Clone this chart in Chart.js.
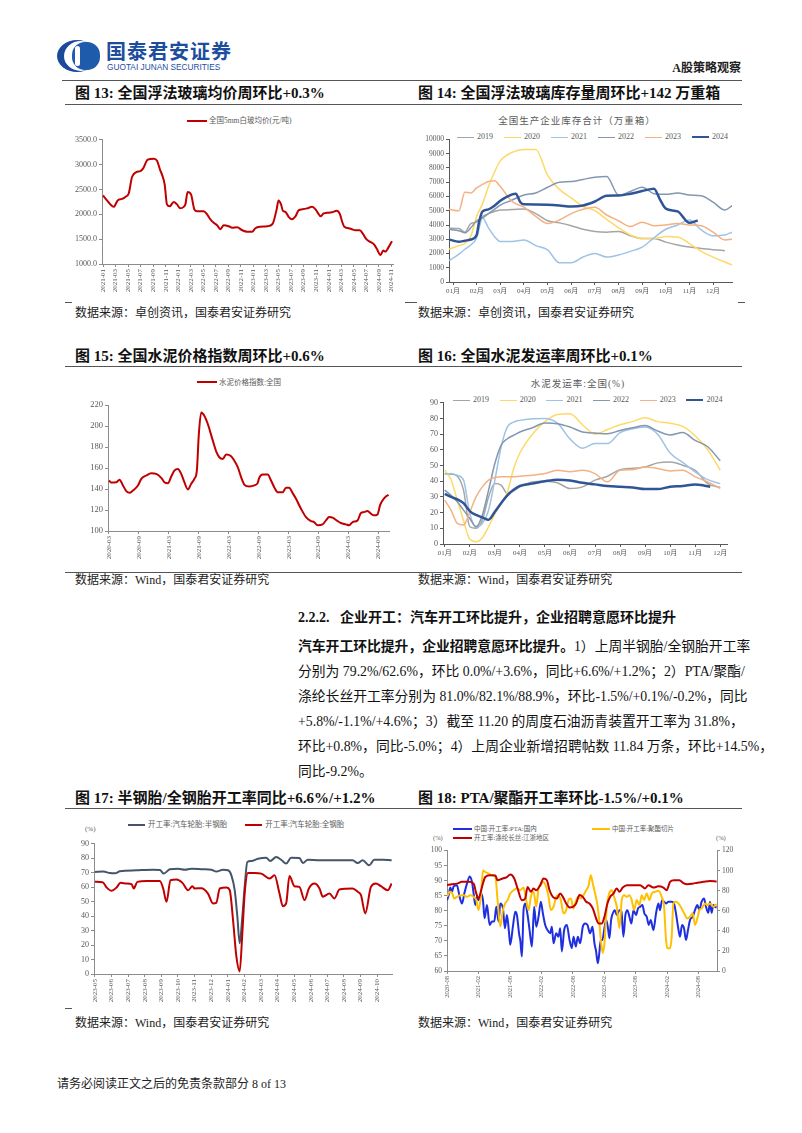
<!DOCTYPE html>
<html lang="zh-CN">
<head>
<meta charset="utf-8">
<title>A股策略观察</title>
<script src="https://cdn.jsdelivr.net/npm/chart.js@4.4.1/dist/chart.umd.min.js"></script>
<style>
html, body { margin: 0; padding: 0; background: #fff; }
body { width: 802px; height: 1133px; position: relative; overflow: hidden;
       font-family: 'Liberation Serif', 'Noto Sans CJK SC', serif; color: #111; }
.t { position: absolute; white-space: nowrap; line-height: 1; }
.rule { position: absolute; height: 0; border-top: 1px solid #555; }
canvas { position: absolute; }
.figt { font-size: 15px; font-weight: bold; }
.src { font-size: 12px; color: #222; }
.para { position: absolute; left: 298px; width: 444px; font-size: 13.8px; line-height: 1;
        white-space: nowrap; text-align: justify; text-align-last: justify; }
.lg { position: absolute; display: flex; align-items: center; white-space: nowrap; line-height: 1; color: #595959; }
.lg .sw { display: inline-block; height: 0; border-top-style: solid; margin-right: 3px; }
.lg .it { display: flex; align-items: center; }
.ctitle { position: absolute; transform: translateX(-50%); white-space: nowrap; line-height: 1;
          font-size: 9.5px; color: #595959; letter-spacing: 1px; }
</style>
</head>
<body>

<!-- 页眉 -->
<svg width="46" height="34" viewBox="0 0 46 34" style="position:absolute;left:56px;top:39px">
  <ellipse cx="21" cy="17" rx="20" ry="16" fill="#1B4B98"/>
  <ellipse cx="25" cy="17" rx="17" ry="15" fill="#fff"/>
  <rect x="16" y="3" width="28" height="28" rx="13" fill="#1E5BAA"/>
  <rect x="19" y="7" width="5" height="20" rx="2.5" fill="#fff"/>
</svg>
<div class="t" style="left:106px;top:41px;font-size:20px;font-weight:bold;color:#1D4E9E;font-family:'Noto Sans CJK SC',sans-serif;letter-spacing:1px">国泰君安证券</div>
<div class="t" style="left:107px;top:63px;font-size:8.3px;color:#1D4E9E;font-family:'Liberation Sans','DejaVu Sans',sans-serif">GUOTAI JUNAN SECURITIES</div>
<div class="t" style="right:61px;top:62px;font-size:12px;font-weight:bold;color:#222">A股策略观察</div>
<div class="rule" style="left:62px;width:680px;top:80px"></div>

<!-- 图13 / 图14 -->
<div class="t figt" style="left:75px;top:85.5px">图 13:&nbsp;全国浮法玻璃均价周环比+0.3%</div>
<div class="t figt" style="left:418px;top:85.5px">图 14:&nbsp;全国浮法玻璃库存量周环比+142 万重箱</div>
<div class="rule" style="left:65px;width:677px;top:104px"></div>

<div class="lg" style="left:187px;top:117px;font-size:7.5px">
  <span class="sw" style="width:20px;border-top-width:2px;border-top-color:#C00000;margin-right:2px"></span>全国5mm白玻均价(元/吨)
</div>
<canvas id="c13"></canvas>

<div class="ctitle" style="left:577px;top:117px">全国生产企业库存合计（万重箱）</div>
<div class="lg" style="left:457px;top:133px;font-size:8px">
  <span class="it" style="margin-right:11px"><span class="sw" style="width:17px;border-top-width:1.5px;border-top-color:#A5A5A5"></span>2019</span>
  <span class="it" style="margin-right:11px"><span class="sw" style="width:17px;border-top-width:1.5px;border-top-color:#FFD966"></span>2020</span>
  <span class="it" style="margin-right:11px"><span class="sw" style="width:17px;border-top-width:1.5px;border-top-color:#9DC3E6"></span>2021</span>
  <span class="it" style="margin-right:11px"><span class="sw" style="width:17px;border-top-width:1.5px;border-top-color:#8497B0"></span>2022</span>
  <span class="it" style="margin-right:11px"><span class="sw" style="width:17px;border-top-width:1.5px;border-top-color:#F4B183"></span>2023</span>
  <span class="it"><span class="sw" style="width:17px;border-top-width:2.5px;border-top-color:#2F5597"></span>2024</span>
</div>
<canvas id="c14"></canvas>

<div class="rule" style="left:65px;width:7px;top:302px"></div>
<div class="rule" style="left:405px;width:12px;top:302px"></div>
<div class="rule" style="left:738px;width:7px;top:302px"></div>
<div class="t src" style="left:75px;top:307px">数据来源：卓创资讯，国泰君安证券研究</div>
<div class="t src" style="left:418px;top:307px">数据来源：卓创资讯，国泰君安证券研究</div>

<!-- 图15 / 图16 -->
<div class="t figt" style="left:75px;top:348.5px">图 15:&nbsp;全国水泥价格指数周环比+0.6%</div>
<div class="t figt" style="left:418px;top:348.5px">图 16:&nbsp;全国水泥发运率周环比+0.1%</div>
<div class="rule" style="left:65px;width:677px;top:366px"></div>

<div class="lg" style="left:197px;top:378.5px;font-size:7.5px">
  <span class="sw" style="width:20px;border-top-width:2px;border-top-color:#C00000;margin-right:2px"></span>水泥价格指数:全国
</div>
<canvas id="c15"></canvas>

<div class="ctitle" style="left:578px;top:380px">水泥发运率:全国(%)</div>
<div class="lg" style="left:453px;top:396px;font-size:8px">
  <span class="it" style="margin-right:10.7px"><span class="sw" style="width:17px;border-top-width:1.5px;border-top-color:#A5A5A5"></span>2019</span>
  <span class="it" style="margin-right:10.7px"><span class="sw" style="width:17px;border-top-width:1.5px;border-top-color:#FFD966"></span>2020</span>
  <span class="it" style="margin-right:10.7px"><span class="sw" style="width:17px;border-top-width:1.5px;border-top-color:#9DC3E6"></span>2021</span>
  <span class="it" style="margin-right:10.7px"><span class="sw" style="width:17px;border-top-width:1.5px;border-top-color:#8497B0"></span>2022</span>
  <span class="it" style="margin-right:10.7px"><span class="sw" style="width:17px;border-top-width:1.5px;border-top-color:#F4B183"></span>2023</span>
  <span class="it"><span class="sw" style="width:17px;border-top-width:2.5px;border-top-color:#2F5597"></span>2024</span>
</div>
<canvas id="c16"></canvas>

<div class="rule" style="left:65px;width:677px;top:572px"></div>
<div class="t src" style="left:75px;top:574px">数据来源：Wind，国泰君安证券研究</div>
<div class="t src" style="left:418px;top:574px">数据来源：Wind，国泰君安证券研究</div>

<!-- 正文 -->
<div class="t" style="left:298px;top:611px;font-size:14px;font-weight:bold">2.2.2.&nbsp;&nbsp;&nbsp;企业开工：汽车开工环比提升，企业招聘意愿环比提升</div>
<div class="para" style="top:640px"><b>汽车开工环比提升，企业招聘意愿环比提升。</b>1）上周半钢胎/全钢胎开工率</div>
<div class="para" style="top:665px">分别为 79.2%/62.6%，环比 0.0%/+3.6%，同比+6.6%/+1.2%；2）PTA/聚酯/</div>
<div class="para" style="top:690px">涤纶长丝开工率分别为 81.0%/82.1%/88.9%，环比-1.5%/+0.1%/-0.2%，同比</div>
<div class="para" style="top:715px">+5.8%/-1.1%/+4.6%；3）截至 11.20 的周度石油沥青装置开工率为 31.8%，</div>
<div class="para" style="top:740px">环比+0.8%，同比-5.0%；4）上周企业新增招聘帖数 11.84 万条，环比+14.5%，</div>
<div class="t" style="left:298px;top:765px;font-size:13.8px">同比-9.2%。</div>

<!-- 图17 / 图18 -->
<div class="t figt" style="left:75px;top:790.5px">图 17:&nbsp;半钢胎/全钢胎开工率同比+6.6%/+1.2%</div>
<div class="t figt" style="left:418px;top:790.5px">图 18:&nbsp;PTA/聚酯开工率环比-1.5%/+0.1%</div>
<div class="rule" style="left:65px;width:677px;top:808px"></div>

<div class="lg" style="left:128px;top:821px;font-size:7.5px">
  <span class="it" style="margin-right:18px"><span class="sw" style="width:17px;border-top-width:2px;border-top-color:#44546A"></span>开工率:汽车轮胎:半钢胎</span>
  <span class="it"><span class="sw" style="width:17px;border-top-width:2px;border-top-color:#C00000"></span>开工率:汽车轮胎:全钢胎</span>
</div>
<div class="t" style="left:85px;top:825.5px;font-size:7px;color:#595959">(%)</div>
<canvas id="c17"></canvas>

<div class="lg" style="left:453px;top:826px;font-size:6.5px">
  <span class="sw" style="width:19px;border-top-width:2px;border-top-color:#1F2FE0;margin-right:2px"></span>中国:开工率:PTA:国内
</div>
<div class="lg" style="left:592px;top:826px;font-size:6.5px">
  <span class="sw" style="width:18px;border-top-width:2px;border-top-color:#FFC000;margin-right:2px"></span>中国:开工率:聚酯切片
</div>
<div class="lg" style="left:453px;top:834.5px;font-size:6.5px">
  <span class="sw" style="width:19px;border-top-width:2px;border-top-color:#C00000;margin-right:2px"></span>开工率:涤纶长丝:江浙地区
</div>
<div class="t" style="left:433px;top:835px;font-size:6.5px;color:#595959">(%)</div>
<div class="t" style="left:716px;top:835px;font-size:6.5px;color:#595959">(%)</div>
<canvas id="c18"></canvas>

<div class="rule" style="left:65px;width:7px;top:1008px"></div>
<div class="t src" style="left:75px;top:1017px">数据来源：Wind，国泰君安证券研究</div>
<div class="t src" style="left:418px;top:1017px">数据来源：Wind，国泰君安证券研究</div>

<!-- 页脚 -->
<div class="t" style="left:57px;top:1078px;font-size:12px;color:#222">请务必阅读正文之后的免责条款部分 8 of 13</div>

<script>
// ===== 数据 =====

// 图13：全国5mm白玻均价(元/吨)，横轴为自 2021-01 起的月数
const glassTicks = ['2021-01', '2021-03', '2021-05', '2021-07', '2021-09', '2021-11',
    '2022-01', '2022-03', '2022-05', '2022-07', '2022-09', '2022-11',
    '2023-01', '2023-03', '2023-05', '2023-07', '2023-09', '2023-11',
    '2024-01', '2024-03', '2024-05', '2024-07', '2024-09', '2024-11'];
const glassMonth = [0, 0.64, 1.17, 1.7, 2.34, 3.03, 3.56, 4.1, 4.63, 5.32,
    5.96, 6.38, 7.13, 8.09, 8.62, 9.15, 9.41, 9.84, 10.2, 10.64,
    11.28, 11.8, 12.34, 12.87, 13.14, 13.5, 14.04, 14.57, 15, 16.06,
    16.6, 17.13, 17.66, 18.2, 18.72, 19.26, 20.05, 20.6, 21.4, 22.2,
    23, 23.8, 24.3, 25.1, 26.2, 27, 27.2, 27.7, 28, 28.4,
    28.7, 29.1, 29.6, 30.05, 30.7, 31.2, 31.8, 32.55, 33.35, 33.9,
    34.26, 34.7, 35.2, 35.7, 36.5, 37.3, 37.8, 38.1, 38.5, 39.2,
    39.7, 40.3, 40.96, 41.5, 42, 42.55, 43.2, 43.7, 44.26, 44.7,
    45.05, 45.6, 46.1];
const glassPrice = [2380, 2280, 2200, 2150, 2280, 2310, 2350, 2420, 2750, 2850,
    2870, 2920, 3100, 3120, 3080, 2880, 2800, 2600, 2200, 2160,
    2250, 2200, 2120, 2150, 2200, 2450, 2400, 2100, 2060, 2060,
    2000, 1900, 1830, 1780, 1700, 1780, 1760, 1730, 1740, 1680,
    1650, 1650, 1720, 1750, 1760, 1800, 1850, 2100, 2280, 2200,
    2070, 2050, 1950, 1900, 1960, 2080, 2100, 2120, 2150, 2100,
    2030, 1960, 2020, 2030, 2040, 2070, 2000, 1870, 1750, 1720,
    1700, 1680, 1680, 1600, 1500, 1450, 1400, 1300, 1180, 1270,
    1250, 1350, 1460];

// 图14 / 图16 的月份刻度
const monthLabels = ['01月', '02月', '03月', '04月', '05月', '06月', '07月', '08月', '09月', '10月', '11月', '12月'];

// 图14：全国生产企业库存合计(万重箱)，横轴为年内月份位置(0 = 01月)
const invMonth = [-0.17, 0.25, 0.5, 0.75, 1, 1.25, 1.5, 1.75, 2, 2.5,
    3, 3.5, 4, 4.5, 5, 5.5, 6, 6.5, 7, 7.5,
    8, 8.5, 9, 9.5, 10, 10.5, 11, 11.5, 11.8];
const inv2019 = [3780, 3750, 3500, 4100, 4200, 4600, 4800, 4950, 5050, 5080,
    5120, 4800, 4300, 4150, 3950, 3700, 3550, 3500, 3550, 3250,
    3050, 3050, 2800, 2600, 2450, 2350, 2270, 2200, null];
const inv2020 = [2300, 2550, 2700, 3200, 4600, 5500, 6700, 7700, 8500, 9100,
    9300, 9300, 7500, 6500, 5900, 5300, 5000, 4400, 3800, 3300,
    3050, 3050, 3200, 3150, 2700, 2150, 1750, 1400, 1200];
const inv2021 = [1500, 1950, 2300, 2600, 3100, 4500, 3800, 3200, 2850, 2850,
    2950, 2550, 2250, 1350, 1350, 1750, 2000, 1750, 1900, 2150,
    2450, 3100, 3700, 4000, 4350, 3650, 3250, 3300, 3500];
const inv2022 = [3700, 3600, 3450, 3800, 4300, 4500, 4800, 5100, 5400, 5750,
    6100, 6250, 6650, 7000, 7050, 7200, 7350, 7400, 6100, 6350,
    6650, 6200, 6150, 6250, 6100, 6050, 5600, 5050, 5350];
const inv2023 = [5100, 5000, 6300, 6250, 6600, 6850, 7050, 7100, 6700, 5650,
    5250, 4600, 4100, 4350, 4800, 5100, 5250, 4700, 4300, 3900,
    4200, 3950, 4000, 4100, 4000, 3950, 3500, 2950, 3000];
const inv2024Month = [-0.17, 0.25, 0.5, 0.75, 1, 1.1, 1.25, 1.5, 1.75, 2,
    2.25, 2.5, 2.65, 2.85, 3, 3.5, 4, 4.5, 5, 5.5,
    6, 6.5, 7, 7.5, 8, 8.5, 8.75, 9, 9.5, 10, 10.35];
const inv2024 = [2990, 2820, 2900, 2980, 3300, 4200, 4950, 5100, 5350, 5700,
    5950, 6150, 6200, 5600, 5450, 5440, 5420, 5370, 5300, 5370,
    5650, 6050, 6070, 6190, 6380, 6550, 5800, 5150, 4950, 4150, 4320];

// 图15：水泥价格指数:全国，横轴为自 2020-03 起的月数
const cementTicks = ['2020-03', '2020-09', '2021-03', '2021-09', '2022-03',
    '2022-09', '2023-03', '2023-09', '2024-03', '2024-09'];
const cementMonth = [0, 0.47, 1.47, 2.1, 2.8, 3.47, 4.1, 4.8, 5.8, 6.47,
    7.47, 8.47, 9.47, 10.47, 11.1, 11.8, 12.47, 13.1, 13.8, 14.47,
    15.1, 15.8, 16.47, 17.1, 17.6, 18, 18.47, 19.1, 19.8, 20.8,
    21.47, 22.1, 22.8, 23.47, 24.47, 25.1, 25.8, 26.47, 27.1, 28.1,
    29.1, 29.8, 30.1, 30.8, 31.8, 32.47, 33.1, 33.8, 34.8, 35.47,
    36.1, 36.8, 37.47, 38.47, 39.47, 40.47, 41.1, 41.8, 42.8, 43.47,
    44.1, 44.8, 45.8, 46.47, 47.47, 48.1, 48.8, 49.8, 50.47, 51.1,
    51.8, 52.47, 53.1, 53.8, 54.3, 54.8, 55.47, 56];
const cementIndex = [148.1, 146.2, 146.5, 148.8, 143.4, 138, 136.4, 138.6, 143.4, 149.7,
    152.9, 155.1, 154.5, 150.7, 146.5, 145.6, 151.9, 157.6, 159.2, 154.5,
    146.5, 139.6, 145, 149.7, 157.6, 192.4, 213, 209.9, 202, 186.1,
    176, 170.3, 168.7, 172.8, 171.2, 167.1, 160.8, 151.3, 144.3, 142.4,
    143.4, 145.9, 150.7, 153.8, 153.8, 148.1, 141.8, 137, 137, 141.2,
    141.2, 136.1, 130.7, 121.2, 113.3, 109.5, 108.5, 105.4, 106.3, 110.1,
    113.3, 112.7, 109.5, 107.6, 106.3, 105.4, 108.5, 110.1, 117.1, 118,
    119, 116.5, 114.9, 115.8, 124.4, 129.1, 132.9, 134.5];

// 图16：水泥发运率:全国(%)，横轴为年内月份位置
const shipMonth = [0, 0.25, 0.5, 0.75, 1, 1.25, 1.5, 1.75, 2, 2.25,
    2.5, 2.75, 3, 3.5, 4, 4.5, 5, 5.5, 6, 6.5,
    7, 7.5, 8, 8.5, 9, 9.5, 10, 10.5, 11];
const ship2019 = [44.9, 44.5, 43.2, 34.3, 11, 10, 15.2, 30, 38.5, 37.5,
    32.2, 33.9, 36.4, 39.6, 40, 39, 35.4, 36.4, 40.7, 43.2,
    47.4, 48.3, 49.1, 51.7, 52.3, 50.2, 47, 38.5, 36];
const ship2020 = [47, 41, 28, 15, 3, 1.5, 4, 11, 19, 26,
    33, 48, 58, 70, 78, 82.5, 83, 76, 70, 73,
    76, 78, 80.5, 78, 77, 75, 69, 60, 47];
const ship2021 = [44.5, 44.9, 43.8, 40.7, 19.5, 11, 13.1, 21.6, 40.7, 61.8,
    74.6, 77.7, 78.8, 79.8, 80, 77, 67, 61, 64, 64,
    71, 73.5, 74.6, 70, 58, 52, 46, 41, 38.5];
const ship2022 = [34.3, 31.1, 26.9, 21.6, 16.3, 11, 18.4, 34.3, 51.3, 62.9,
    67.1, 69.3, 71.4, 74.1, 77.1, 76.7, 74.6, 71.4, 70.7, 70.3,
    72.4, 74.1, 75.5, 72, 69.5, 71, 66, 62, 53];
const ship2023 = [28, 21.6, 13.1, 12.1, 20.5, 30, 36.4, 40.7, 42.4, 42.8,
    42.8, 42.8, 43.2, 43.8, 44.9, 47, 46, 47, 44.9, 39.6,
    47, 47.4, 49.1, 48.1, 46.6, 47, 42.8, 39.6, 35.4];
const ship2024Month = [0, 0.25, 0.5, 0.75, 1, 1.25, 1.5, 1.75, 2, 2.25,
    2.5, 2.75, 3, 3.5, 4, 4.5, 5, 5.5, 6, 6.5,
    7, 7.5, 8, 8.5, 9, 9.5, 10, 10.3, 10.6];
const ship2024 = [32, 30, 28.5, 26, 21, 18.5, 17, 15.5, 20.5, 26,
    31, 34.5, 37, 38.5, 40, 41, 40.5, 39, 38, 37,
    36.5, 36, 35, 35, 36.5, 37, 38, 37.5, 36.5];

// 图17：汽车轮胎开工率(%)，横轴为自 2023-05 起的月数
const tireTicks = ['2023-05', '2023-06', '2023-07', '2023-08', '2023-09', '2023-10',
    '2023-11', '2023-12', '2024-01', '2024-02', '2024-03', '2024-04',
    '2024-05', '2024-06', '2024-07', '2024-08', '2024-09', '2024-10'];
const semiMonth = [0, 0.5, 0.9, 1.2, 1.5, 2.5, 3.51, 3.91, 4.15, 4.51,
    5.01, 5.41, 5.81, 6.51, 7.01, 7.31, 7.72, 8.02, 8.22, 8.42,
    8.58, 8.72, 8.88, 9.02, 9.18, 9.42, 9.82, 10.32, 10.56, 10.92,
    11.22, 11.52, 11.82, 12.32, 12.53, 12.83, 13.53, 14.53, 15.53, 15.83,
    16.13, 16.53, 16.83, 17.33, 17.88];
const semiSteel = [70.5, 70.8, 69.8, 69.6, 71, 71.7, 72.1, 71.9, 69.4, 72.4,
    72.8, 72.1, 72.8, 72.4, 72.1, 70.8, 72.1, 71.7, 68.2, 57.9,
    39.6, 21.3, 39.6, 60.2, 77.4, 78.1, 79.7, 80.4, 78.1, 80.8,
    79, 76.3, 80.4, 80.2, 76.7, 79, 78.6, 78.6, 78.6, 76.7,
    78.6, 75.1, 79, 79, 78.6];
const fullMonth = [0, 0.46, 0.7, 1, 1.3, 1.54, 1.9, 2.2, 2.34, 2.55,
    3.11, 3.91, 4.11, 4.31, 4.55, 4.91, 5.27, 5.61, 5.87, 6.01,
    6.41, 6.81, 7.11, 7.31, 7.52, 7.92, 8.12, 8.32, 8.52, 8.72,
    8.88, 9.02, 9.22, 9.62, 10.02, 10.52, 10.82, 11.12, 11.32, 11.52,
    11.72, 12.02, 12.32, 12.63, 12.89, 13.23, 13.53, 13.73, 14.13, 14.43,
    14.73, 15.53, 15.83, 16.03, 16.29, 16.63, 16.93, 17.23, 17.64, 17.88];
const fullSteel = [63.7, 63.4, 59.8, 57.5, 59.8, 63, 62.5, 62.1, 59.1, 63.7,
    64.3, 64.3, 59.1, 49.9, 64.8, 65.3, 63, 57.9, 60.7, 59.1,
    59.3, 55.6, 48.8, 49.2, 59.1, 59.8, 57.9, 37.3, 12.1, 1.8,
    28.2, 55.6, 69.8, 69.8, 69.4, 66, 68.2, 55.6, 46.9, 48.8,
    67.7, 60.7, 60.2, 51.1, 59.1, 62.5, 59.1, 53.4, 55.6, 52.2,
    58.4, 59.1, 56.8, 54.5, 41.9, 60.2, 62.5, 60.7, 57.9, 62.5];

// 图18：PTA / 聚酯切片 / 涤纶长丝开工率(%)，横轴为自 2020-08 起的月数
const ptaTicks = ['2020-08', '2021-02', '2021-08', '2022-02', '2022-08',
    '2023-02', '2023-08', '2024-02', '2024-08'];
const ptaMonth = [0, 0.32, 0.63, 0.95, 1.27, 1.9, 2.41, 2.86, 3.3, 3.81,
    4.32, 4.76, 5.08, 5.4, 5.71, 6.03, 6.48, 6.86, 7.17, 7.62,
    8.13, 8.57, 9.02, 9.4, 9.84, 10.16, 10.67, 11.05, 11.43, 11.81,
    12.06, 12.57, 13.02, 13.33, 13.78, 13.97, 14.29, 14.6, 14.92, 15.37,
    15.75, 16.19, 16.63, 17.02, 17.46, 17.9, 18.29, 18.73, 19.17, 19.68,
    20, 20.32, 20.83, 21.27, 21.59, 21.9, 22.35, 22.86, 23.37, 23.81,
    24.13, 24.57, 24.95, 25.4, 25.9, 26.35, 26.79, 27.3, 27.75, 28.13,
    28.44, 28.76, 29.02, 29.33, 29.65, 29.97, 30.35, 30.67, 30.98, 31.3,
    31.62, 32, 32.38, 32.89, 33.27, 33.65, 34.03, 34.41, 34.79, 35.17,
    35.56, 36.06, 36.44, 36.83, 37.27, 37.65, 38.1, 38.48, 38.86, 39.37,
    39.87, 40.32, 40.63, 41.02, 41.4, 41.78, 42.22, 42.86, 43.3, 43.68,
    44.06, 44.44, 44.83, 45.21, 45.59, 45.97, 46.35, 46.86, 47.3, 47.75,
    48.13, 48.57, 49.02, 49.4, 49.84, 50.16, 50.48, 50.79, 51.11, 51.43];
const ptaRate = [83.5, 85.2, 87.7, 86.3, 88.1, 88.5, 84.6, 82.4, 85.7, 89,
    91.4, 89.6, 85.7, 81.9, 84.6, 83.5, 85.7, 83.5, 77.5, 81.9,
    75.3, 76.4, 76.4, 81.3, 76.4, 82.4, 80.8, 74.2, 78.6, 73.1,
    68.7, 74.7, 79.7, 78.6, 72, 70.3, 64.8, 80.2, 82.4, 78.6,
    73.6, 68.1, 81.3, 74.7, 78, 83, 79.1, 75.3, 73.6, 72.5,
    74.7, 69.2, 72.5, 71.4, 74.2, 66.5, 73.6, 75.3, 70.3, 67.6,
    71.4, 68.1, 71.4, 69.2, 74.7, 75.8, 75.3, 72.5, 74.7, 69.2,
    66.5, 62.6, 65.4, 70.3, 70.3, 73.6, 76.9, 74.7, 70.9, 76.9,
    79.1, 80.2, 78.6, 80.2, 79.7, 71.4, 78.6, 80.2, 78, 75.8,
    80.2, 78.6, 80.8, 81.3, 81.9, 79.1, 78, 75.3, 76.9, 73.6,
    79.1, 82.4, 80.2, 83.5, 83, 82.4, 83, 83, 82.4, 79.1,
    74.7, 71.4, 75.3, 74.2, 70.3, 73.6, 76.9, 78, 80.2, 81.9,
    80.2, 83, 84.1, 81.3, 79.3, 83, 79.3, 81.9, 81.3, 81.1];
// 聚酯切片对应右轴
const chipMonth = [0, 0.51, 0.95, 1.4, 1.9, 2.54, 3.17, 3.81, 4.44, 5.08,
    5.59, 6.03, 6.48, 6.86, 7.3, 7.94, 8.57, 9.21, 9.65, 10.16,
    10.67, 11.11, 11.56, 12.06, 12.7, 13.33, 13.97, 14.6, 15.11, 15.56,
    16, 16.51, 17.02, 17.46, 17.9, 18.41, 18.92, 19.37, 19.81, 20.32,
    20.83, 21.27, 21.71, 22.22, 22.73, 23.17, 23.62, 24.13, 24.63, 25.08,
    25.52, 26.03, 26.54, 26.98, 27.43, 27.81, 28.25, 28.7, 29.08, 29.4,
    29.71, 30.03, 30.48, 30.92, 31.43, 31.87, 32.38, 32.89, 33.33, 33.78,
    34.29, 34.79, 35.24, 35.68, 36.19, 36.7, 37.14, 37.59, 38.1, 38.6,
    39.05, 39.68, 40.32, 40.95, 41.4, 41.78, 42.03, 42.54, 42.86, 43.17,
    43.68, 44.13, 44.76, 45.4, 45.84, 46.35, 46.86, 47.3, 47.75, 48.13,
    48.57, 49.21, 49.65, 50.16, 50.79, 51.43];
const chipRate = [73.9, 78.8, 77.8, 72.2, 73.9, 75.5, 75.5, 73.9, 75.5, 73.9,
    70.6, 60.7, 75.5, 100.2, 98.6, 96.9, 95.3, 94.3, 70.6, 44.2,
    60.7, 67.3, 70.6, 77.1, 80.4, 82.1, 80.4, 83.1, 70.6, 60.7,
    73.9, 78.8, 64, 82.1, 85.4, 88.7, 83.7, 73.9, 60.7, 64,
    73.9, 75.5, 70.6, 57.4, 60.7, 70.6, 72.2, 62.3, 70.6, 73.9,
    72.2, 75.5, 80.4, 84.4, 95.3, 87, 77.1, 65.6, 47.5, 27.7,
    17.8, 27.7, 64, 77.1, 80.4, 73.9, 64, 42.5, 70.6, 75.5,
    73.9, 75.5, 70.6, 60.7, 70.6, 65.6, 75.5, 70.6, 77.1, 70.6,
    77.1, 78.8, 79.8, 73.9, 64, 31, 22.7, 22.7, 34.3, 67.3,
    68.9, 67.3, 62.3, 55.7, 52.4, 54.1, 57.4, 45.8, 52.4, 60.7,
    62.3, 67.3, 65.6, 67.3, 64, 66.6];
const filMonth = [0, 0.95, 1.9, 2.86, 4.13, 5.08, 5.59, 6.03, 6.67, 7.3,
    8.25, 9.21, 9.65, 10.48, 11.43, 12.06, 12.83, 13.46, 14.29, 14.92,
    15.37, 16, 16.51, 17.02, 17.78, 18.41, 19.05, 19.56, 20.19, 20.95,
    21.59, 22.1, 22.73, 23.37, 24, 24.63, 25.27, 25.9, 26.54, 27.17,
    27.81, 28.44, 28.89, 29.52, 30.03, 30.6, 31.11, 31.75, 32.38, 32.89,
    33.52, 34.29, 35.43, 36.83, 37.78, 38.41, 39.37, 40.32, 41.27, 41.9,
    42.54, 43.3, 44.32, 45.08, 45.84, 46.86, 47.75, 48.89, 50.16, 51.43];
const filRate = [88.5, 88.8, 89, 89.6, 89.6, 89, 85.7, 84.1, 87.9, 91.2,
    91.8, 91.7, 90.1, 90.6, 91.2, 92, 90.7, 87.4, 83.5, 84.1,
    87.9, 86.3, 87.4, 86.8, 88.5, 90.7, 90.1, 86.8, 84.6, 84.1,
    85.7, 84.6, 82.4, 81.1, 81.3, 82.4, 85.2, 84.6, 83, 82.4,
    80.8, 77.5, 75.8, 75.8, 78, 82.4, 84.6, 85.7, 87.4, 86.3,
    87.7, 88.5, 88.5, 88.5, 87.4, 88.5, 87.7, 88.1, 87.7, 86.8,
    89.6, 90.1, 90.1, 89.2, 88.8, 89, 89.3, 89.6, 89.9, 89.7];

// ===== 通用设置 =====
Chart.defaults.font.family = "'Liberation Serif', 'Noto Sans CJK SC', serif";
Chart.defaults.color = '#595959';
Chart.defaults.animation = false;

const AXIS = '#8c8c8c';

function line(label, xs, ys, color, width, extra) {
    return Object.assign({
        label: label,
        data: xs.map((x, i) => ({ x: x, y: ys[i] })),
        borderColor: color,
        backgroundColor: color,
        borderWidth: width,
        pointRadius: 0,
        fill: false,
        cubicInterpolationMode: 'monotone'
    }, extra || {});
}

function axisLines(color) {
    return {
        grid: { display: true, drawOnChartArea: false, drawTicks: true, tickLength: 3, color: color },
        border: { display: true, color: color }
    };
}

// 数值轴(纵轴)
function valueAxis(min, max, step, width, fontSize, opts) {
    opts = opts || {};
    return Object.assign({
        type: 'linear',
        position: opts.position || 'left',
        min: min,
        max: max,
        ticks: {
            stepSize: step,
            font: { size: fontSize },
            padding: 2,
            callback: opts.format || (v => v)
        },
        afterFit: s => { s.width = width; }
    }, axisLines(opts.color || AXIS));
}

// 日期轴(横轴，标签竖排)
function dateAxis(min, max, labels, step, height, fontSize) {
    return Object.assign({
        type: 'linear',
        min: min,
        max: max,
        afterBuildTicks: s => { s.ticks = labels.map((_, i) => ({ value: i * step })); },
        ticks: {
            autoSkip: false,
            minRotation: 90,
            maxRotation: 90,
            font: { size: fontSize },
            padding: 2,
            callback: (v, i) => labels[i]
        },
        afterFit: s => { s.height = height; }
    }, axisLines(AXIS));
}

// 月份轴(图14、图16)
function monthAxis(min, max, height) {
    return Object.assign({
        type: 'linear',
        min: min,
        max: max,
        afterBuildTicks: s => { s.ticks = monthLabels.map((_, i) => ({ value: i })); },
        ticks: {
            autoSkip: false,
            minRotation: 0,
            maxRotation: 0,
            font: { size: 7 },
            padding: 2,
            callback: (v, i) => monthLabels[i]
        },
        afterFit: s => { s.height = height; }
    }, axisLines('#595959'));
}

function makeChart(id, left, top, width, height, rightPad, datasets, scales) {
    const canvas = document.getElementById(id);
    canvas.width = width;
    canvas.height = height;
    canvas.style.left = left + 'px';
    canvas.style.top = top + 'px';
    return new Chart(canvas.getContext('2d'), {
        type: 'line',
        data: { datasets: datasets },
        options: {
            responsive: false,
            maintainAspectRatio: false,
            animation: false,
            layout: { padding: { top: 6, right: rightPad, bottom: 0, left: 0 } },
            plugins: { legend: { display: false }, tooltip: { enabled: false } },
            scales: scales
        }
    });
}

// ===== 图13 =====
makeChart('c13', 60, 133, 343, 167, 10,
    [line('全国5mm白玻均价(元/吨)', glassMonth, glassPrice, '#C00000', 2)],
    {
        x: dateAxis(-0.16, 46.26, glassTicks, 2, 36, 7),
        y: valueAxis(1000, 3500, 500, 42, 8, { format: v => v.toFixed(1) })
    });

// ===== 图14 =====
makeChart('c14', 413, 133, 327, 165, 8,
    [
        line('2024', inv2024Month, inv2024, '#2F5597', 2.5),
        line('2023', invMonth, inv2023, '#F4B183', 1.5),
        line('2022', invMonth, inv2022, '#8497B0', 1.5),
        line('2021', invMonth, inv2021, '#9DC3E6', 1.5),
        line('2020', invMonth, inv2020, '#FFD966', 1.5),
        line('2019', invMonth, inv2019, '#A5A5A5', 1.5)
    ],
    {
        x: monthAxis(-0.17, 11.8, 16),
        y: valueAxis(0, 10000, 1000, 36, 7.5, { color: '#595959' })
    });

// ===== 图15 =====
makeChart('c15', 72, 398, 327, 169, 10,
    [line('水泥价格指数:全国', cementMonth, cementIndex, '#C00000', 2)],
    {
        x: dateAxis(-0.2, 56.1, cementTicks, 6, 36, 7),
        y: valueAxis(100, 220, 20, 36, 8.5)
    });

// ===== 图16 =====
makeChart('c16', 415, 396, 320, 164, 8,
    [
        line('2024', ship2024Month, ship2024, '#2F5597', 2.5),
        line('2023', shipMonth, ship2023, '#F4B183', 1.5),
        line('2022', shipMonth, ship2022, '#8497B0', 1.5),
        line('2021', shipMonth, ship2021, '#9DC3E6', 1.5),
        line('2020', shipMonth, ship2020, '#FFD966', 1.5),
        line('2019', shipMonth, ship2019, '#A5A5A5', 1.5)
    ],
    {
        x: monthAxis(-0.07, 11.27, 16),
        y: valueAxis(0, 90, 10, 28, 8, { color: '#595959' })
    });

// ===== 图17 =====
makeChart('c17', 66, 837, 334, 171, 8,
    [
        line('开工率:汽车轮胎:全钢胎', fullMonth, fullSteel, '#C00000', 2),
        line('开工率:汽车轮胎:半钢胎', semiMonth, semiSteel, '#44546A', 2)
    ],
    {
        x: dateAxis(-0.06, 17.9, tireTicks, 1, 34, 7),
        y: valueAxis(0, 90, 10, 28, 8)
    });

// ===== 图18 =====
makeChart('c18', 423, 844, 322, 163, 4,
    [
        line('开工率:涤纶长丝:江浙地区', filMonth, filRate, '#C00000', 2, { yAxisID: 'y' }),
        line('中国:开工率:聚酯切片', chipMonth, chipRate, '#FFC000', 2, { yAxisID: 'y2' }),
        line('中国:开工率:PTA:国内', ptaMonth, ptaRate, '#1F2FE0', 2, { yAxisID: 'y' })
    ],
    {
        x: dateAxis(0, 51.5, ptaTicks, 6, 36, 6.5),
        y: valueAxis(60, 100, 5, 24, 7.5),
        y2: valueAxis(0, 120, 20, 24, 7.5, { position: 'right' })
    });
</script>
</body>
</html>
